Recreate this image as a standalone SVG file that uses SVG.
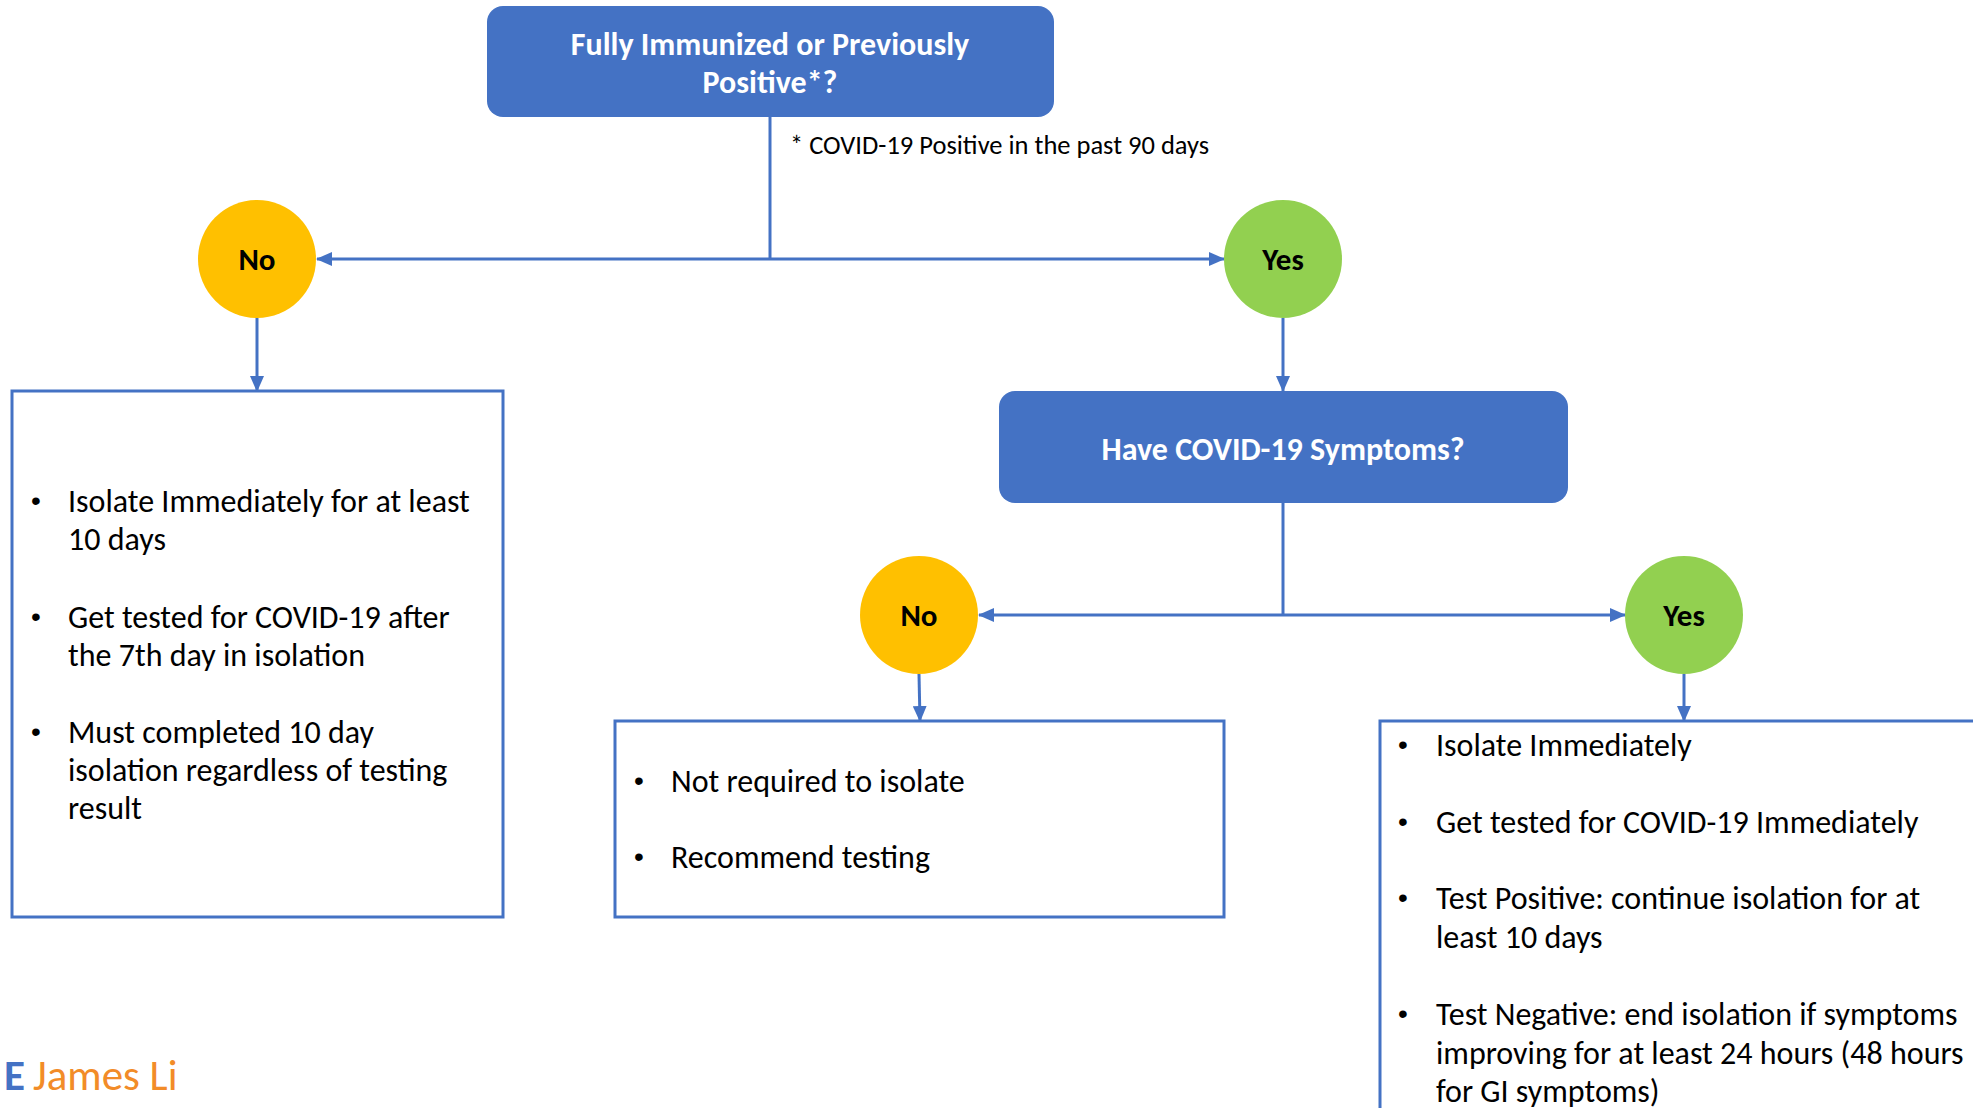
<svg xmlns="http://www.w3.org/2000/svg" width="1973" height="1108" viewBox="0 0 1973 1108">
<style>
.q{fill:#4472C4}
.qt{fill:#FFFFFF;font-family:Carlito,Lato,"Liberation Sans",sans-serif;font-weight:bold;font-size:32px;text-anchor:middle}
.ct{fill:#000000;font-family:Carlito,Lato,"Liberation Sans",sans-serif;font-weight:bold;font-size:31px;text-anchor:middle}
.box{fill:#FFFFFF;stroke:#4472C4;stroke-width:3}
.li{fill:#000000;font-family:Carlito,Lato,"Liberation Sans",sans-serif;font-size:32px}
.bu{fill:#000000;font-family:"Liberation Sans",sans-serif;font-size:28px}
.conn{stroke:#4472C4;stroke-width:3;fill:none}
.note{fill:#000000;font-family:Carlito,Lato,"Liberation Sans",sans-serif;font-size:26.5px}
</style>
<defs>
<marker id="ah" markerUnits="userSpaceOnUse" markerWidth="16" markerHeight="14" refX="15" refY="7" orient="auto">
<path d="M0,0 L16,7 L0,14 z" fill="#4472C4"/>
</marker>
</defs>
<rect width="1973" height="1108" fill="#FFFFFF"/>

<g id="connectors">
<line class="conn" x1="770" y1="117" x2="770" y2="259"/>
<line class="conn" x1="770" y1="259" x2="317" y2="259" marker-end="url(#ah)"/>
<line class="conn" x1="770" y1="259" x2="1224" y2="259" marker-end="url(#ah)"/>
<line class="conn" x1="257" y1="318" x2="257" y2="391" marker-end="url(#ah)"/>
<line class="conn" x1="1283" y1="318" x2="1283" y2="391" marker-end="url(#ah)"/>
<line class="conn" x1="1283" y1="503" x2="1283" y2="615"/>
<line class="conn" x1="1283" y1="615" x2="979" y2="615" marker-end="url(#ah)"/>
<line class="conn" x1="1283" y1="615" x2="1625" y2="615" marker-end="url(#ah)"/>
<line class="conn" x1="919" y1="674" x2="920" y2="721" marker-end="url(#ah)"/>
<line class="conn" x1="1684" y1="674" x2="1684" y2="721" marker-end="url(#ah)"/>
</g>

<g id="q1">
<rect class="q" x="487" y="6" width="567" height="111" rx="16"/>
<text class="qt" x="770" y="55">Fully Immunized or Previously</text>
<text class="qt" x="770" y="93">Positive*?</text>
</g>

<g id="footnote">
<text class="note" x="790" y="154">* COVID-19 Positive in the past 90 days</text>
</g>

<g id="no1">
<circle cx="257" cy="259" r="59" fill="#FFC000"/>
<text class="ct" x="257" y="270">No</text>
</g>

<g id="yes1">
<circle cx="1283" cy="259" r="59" fill="#92D050"/>
<text class="ct" x="1283" y="270">Yes</text>
</g>

<g id="left-box">
<rect class="box" x="12" y="391" width="491" height="526"/>
<text class="bu" x="31" y="510">•</text>
<text class="li" x="68" y="512">Isolate Immediately for at least</text>
<text class="li" x="68" y="550">10 days</text>
<text class="bu" x="31" y="626">•</text>
<text class="li" x="68" y="628">Get tested for COVID-19 after</text>
<text class="li" x="68" y="666">the 7th day in isolation</text>
<text class="bu" x="31" y="741">•</text>
<text class="li" x="68" y="743">Must completed 10 day</text>
<text class="li" x="68" y="781">isolation regardless of testing</text>
<text class="li" x="68" y="819">result</text>
</g>

<g id="q2">
<rect class="q" x="999" y="391" width="569" height="112" rx="16"/>
<text class="qt" x="1283" y="460">Have COVID-19 Symptoms?</text>
</g>

<g id="no2">
<circle cx="919" cy="615" r="59" fill="#FFC000"/>
<text class="ct" x="919" y="626">No</text>
</g>

<g id="yes2">
<circle cx="1684" cy="615" r="59" fill="#92D050"/>
<text class="ct" x="1684" y="626">Yes</text>
</g>

<g id="mid-box">
<rect class="box" x="615" y="721" width="609" height="196"/>
<text class="bu" x="634" y="790">•</text>
<text class="li" x="671" y="792">Not required to isolate</text>
<text class="bu" x="634" y="866">•</text>
<text class="li" x="671" y="868">Recommend testing</text>
</g>

<g id="right-box">
<rect class="box" x="1380" y="721" width="700" height="500"/>
<text class="bu" x="1398" y="754">•</text>
<text class="li" x="1436" y="756">Isolate Immediately</text>
<text class="bu" x="1398" y="831">•</text>
<text class="li" x="1436" y="833">Get tested for COVID-19 Immediately</text>
<text class="bu" x="1398" y="907">•</text>
<text class="li" x="1436" y="909">Test Positive: continue isolation for at</text>
<text class="li" x="1436" y="948">least 10 days</text>
<text class="bu" x="1398" y="1023">•</text>
<text class="li" x="1436" y="1025">Test Negative: end isolation if symptoms</text>
<text class="li" x="1436" y="1064">improving for at least 24 hours (48 hours</text>
<text class="li" x="1436" y="1102">for GI symptoms)</text>
</g>

<g id="footer">
<text x="4" y="1090" font-family="Carlito,Lato,'Liberation Sans',sans-serif" font-size="43px"><tspan fill="#4472C4" font-weight="bold">E</tspan><tspan fill="#F28C28" x="33">James Li</tspan></text>
</g>
</svg>
